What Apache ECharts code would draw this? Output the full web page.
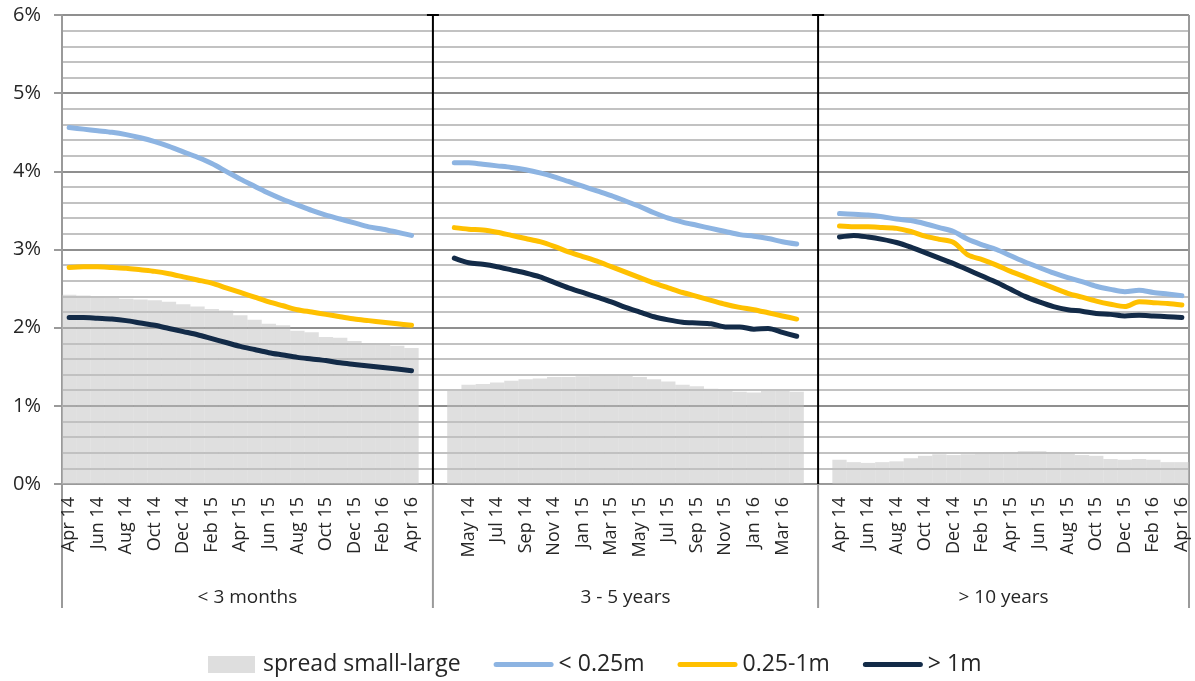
<!DOCTYPE html>
<html>
<head>
<meta charset="utf-8">
<script src="https://cdn.jsdelivr.net/npm/echarts@6/dist/echarts.min.js"></script>
<style>
html,body{margin:0;padding:0;background:#fff;}
#chart{width:1195px;height:681px;}
</style>
</head>
<body>
<div id="chart"></div>
<script>
// ---------- DATA ----------
const months = ["Apr 14","May 14","Jun 14","Jul 14","Aug 14","Sep 14","Oct 14","Nov 14","Dec 14",
  "Jan 15","Feb 15","Mar 15","Apr 15","May 15","Jun 15","Jul 15","Aug 15","Sep 15","Oct 15","Nov 15","Dec 15",
  "Jan 16","Feb 16","Mar 16","Apr 16"];
const groups = ["< 3 months", "3 - 5 years", "> 10 years"];
const seriesNames = ["spread small-large", "< 0.25m", "0.25-1m", "> 1m"];
const yTicks = [0, 1, 2, 3, 4, 5, 6];

// < 3 months
const spreadG1 = [2.42,2.41,2.39,2.38,2.37,2.36,2.35,2.33,2.30,2.27,2.24,2.22,2.16,2.10,2.05,2.03,1.96,1.94,1.88,1.87,1.83,1.80,1.78,1.77,1.74];
const smallG1  = [4.56,4.54,4.52,4.50,4.47,4.43,4.38,4.32,4.25,4.18,4.10,4.00,3.90,3.81,3.72,3.64,3.57,3.50,3.44,3.39,3.34,3.29,3.26,3.22,3.18];
const midG1    = [2.77,2.78,2.78,2.77,2.76,2.74,2.72,2.69,2.65,2.61,2.57,2.51,2.45,2.39,2.33,2.28,2.23,2.20,2.17,2.14,2.11,2.09,2.07,2.05,2.03];
const largeG1  = [2.13,2.13,2.12,2.11,2.09,2.06,2.03,1.99,1.95,1.91,1.86,1.81,1.76,1.72,1.68,1.65,1.62,1.60,1.58,1.55,1.53,1.51,1.49,1.47,1.45];
// 3 - 5 years
const spreadG2 = [1.19,1.27,1.28,1.30,1.32,1.34,1.35,1.37,1.37,1.38,1.39,1.39,1.39,1.37,1.34,1.31,1.27,1.25,1.22,1.21,1.18,1.17,1.19,1.19,1.18];
const smallG2  = [4.11,4.11,4.09,4.07,4.05,4.02,3.98,3.93,3.87,3.81,3.75,3.69,3.62,3.55,3.47,3.40,3.35,3.31,3.27,3.23,3.19,3.17,3.14,3.10,3.07];
const midG2    = [3.28,3.26,3.25,3.22,3.18,3.14,3.10,3.04,2.97,2.91,2.85,2.78,2.71,2.64,2.57,2.51,2.45,2.40,2.35,2.30,2.26,2.23,2.19,2.15,2.11];
const largeG2  = [2.89,2.83,2.81,2.78,2.74,2.70,2.65,2.58,2.51,2.45,2.39,2.33,2.26,2.20,2.14,2.10,2.07,2.06,2.05,2.01,2.01,1.98,1.99,1.94,1.89];
// > 10 years
const spreadG3 = [0.31,0.28,0.27,0.28,0.29,0.33,0.36,0.38,0.37,0.38,0.39,0.40,0.41,0.42,0.42,0.41,0.39,0.37,0.36,0.32,0.31,0.32,0.31,0.28,0.28];
const smallG3  = [3.46,3.45,3.44,3.42,3.39,3.37,3.33,3.28,3.23,3.13,3.06,3.00,2.92,2.84,2.77,2.70,2.64,2.59,2.53,2.49,2.46,2.48,2.45,2.43,2.41];
const midG3    = [3.30,3.29,3.29,3.28,3.27,3.23,3.17,3.13,3.09,2.93,2.87,2.80,2.72,2.65,2.58,2.51,2.44,2.39,2.34,2.30,2.27,2.33,2.32,2.31,2.29];
const largeG3  = [3.16,3.18,3.16,3.13,3.09,3.03,2.96,2.89,2.82,2.74,2.66,2.58,2.49,2.40,2.33,2.27,2.23,2.21,2.18,2.17,2.15,2.16,2.15,2.14,2.13];

// ---------- BUILD CATEGORY LAYOUT ----------
const cats = [], labels = [], spread = [], small = [], mid = [], large = [];
const groupSpans = [];
function pushGap(){ cats.push("gap" + cats.length); labels.push(""); spread.push(null); small.push(null); mid.push(null); large.push(null); }
function pushGroup(g, sp, sm, md, lg){
  months.forEach((m, i) => {
    cats.push(g + "|" + i); labels.push(m);
    spread.push(sp[i]); small.push(sm[i]); mid.push(md[i]); large.push(lg[i]);
  });
}
let s0 = cats.length; pushGroup(0, spreadG1, smallG1, midG1, largeG1); pushGap(); groupSpans.push([s0, cats.length - 1]);
s0 = cats.length; pushGap(); pushGroup(1, spreadG2, smallG2, midG2, largeG2); pushGap(); groupSpans.push([s0, cats.length - 1]);
s0 = cats.length; pushGap(); pushGroup(2, spreadG3, smallG3, midG3, largeG3); groupSpans.push([s0, cats.length - 1]);

const FONT = "'Open Sans', Lato, sans-serif";
const TXT = "#262626";
const LINE_ICON = "path://M0,0M60,17M2.5,6h55a2.5,2.5 0 0 1 0,5h-55a2.5,2.5 0 0 1 0,-5z";
const RECT_ICON = "path://M0,0M60,17M10,0h47v17h-47z";
const chart = echarts.init(document.getElementById("chart"), null, {renderer: "canvas"});

function lineSeries(name, data, color){
  return {
    name, type: "line", data, symbol: "none", showSymbol: false, smooth: 0.3,
    connectNulls: false, z: 3,
    lineStyle: {color, width: 5, cap: "round", join: "round"},
    itemStyle: {color}
  };
}

chart.setOption({
  animation: false,
  textStyle: {fontFamily: FONT},
  grid: {left: 62, right: 6, top: 15, bottom: 197, containLabel: false},
  legend: {
    top: 648, left: 193, itemGap: 33, itemWidth: 60, itemHeight: 17,
    textStyle: {fontFamily: FONT, fontSize: 23, color: TXT},
    data: [
      {name: seriesNames[0], icon: RECT_ICON, itemStyle: {color: "#dedede"}},
      {name: seriesNames[1], icon: LINE_ICON},
      {name: seriesNames[2], icon: LINE_ICON},
      {name: seriesNames[3], icon: LINE_ICON}
    ]
  },
  xAxis: {
    type: "category", data: cats, boundaryGap: true,
    axisLine: {show: true, lineStyle: {color: "#9a9a9a", width: 2}},
    axisTick: {show: false},
    splitLine: {show: false},
    axisLabel: {
      interval: 1, rotate: 90, margin: 13, fontSize: 18, color: TXT, fontFamily: FONT,
      formatter: (v) => { const i = cats.indexOf(v); return i >= 0 ? labels[i] : ""; }
    }
  },
  yAxis: {
    type: "value", min: yTicks[0], max: yTicks[yTicks.length - 1], interval: 1,
    axisLine: {show: true, lineStyle: {color: "#9a9a9a", width: 2}},
    axisTick: {show: true, length: 8, lineStyle: {color: "#9a9a9a", width: 2}},
    axisLabel: {formatter: "{value}%", fontSize: 20, color: TXT, margin: 21, fontFamily: FONT},
    splitLine: {show: true, lineStyle: {color: "#8f8f8f", width: 2}},
    minorTick: {show: false, splitNumber: 5},
    minorSplitLine: {show: true, lineStyle: {color: "#c2c2c2", width: 2}}
  },
  series: [
    {name: seriesNames[0], type: "bar", data: spread, barCategoryGap: "0%", barGap: "0%", z: 1,
     itemStyle: {color: "rgba(191,191,191,0.5)"}},
    lineSeries(seriesNames[1], small, "#8db4e2"),
    lineSeries(seriesNames[2], mid, "#ffc000"),
    lineSeries(seriesNames[3], large, "#132b48")
  ]
});

// ---------- GROUP DIVIDERS & GROUP LABELS ----------
function xPix(i){ return chart.convertToPixel({xAxisIndex: 0}, i); }
const yTop = chart.convertToPixel({yAxisIndex: 0}, yTicks[yTicks.length - 1]);
const yBot = chart.convertToPixel({yAxisIndex: 0}, yTicks[0]);
const w = xPix(1) - xPix(0);
const axisBottom = yBot + 124;
const gfx = [];
const leftEdge = xPix(0) - w / 2;
const rightEdge = xPix(cats.length - 1) + w / 2;
gfx.push({type: "line", shape: {x1: leftEdge, y1: yBot, x2: leftEdge, y2: axisBottom}, style: {stroke: "#9a9a9a", lineWidth: 2}});
gfx.push({type: "line", shape: {x1: rightEdge, y1: yTop, x2: rightEdge, y2: axisBottom}, style: {stroke: "#9a9a9a", lineWidth: 2}});
for (let g = 0; g < groupSpans.length - 1; g++) {
  const x = xPix(groupSpans[g][1]) + w / 2;
  gfx.push({type: "line", z: 10, shape: {x1: x, y1: yTop, x2: x, y2: yBot}, style: {stroke: "#000", lineWidth: 2}});
  gfx.push({type: "line", z: 10, shape: {x1: x - 6, y1: yTop, x2: x + 6, y2: yTop}, style: {stroke: "#000", lineWidth: 2}});
  gfx.push({type: "line", shape: {x1: x, y1: yBot, x2: x, y2: axisBottom}, style: {stroke: "#9a9a9a", lineWidth: 2}});
}
groupSpans.forEach((sp, g) => {
  const cx = (xPix(sp[0]) + xPix(sp[1])) / 2;
  gfx.push({type: "text", x: cx, y: yBot + 114, style: {text: groups[g], fontSize: 19, fontFamily: FONT, fill: TXT, align: "center", verticalAlign: "middle"}});
});
chart.setOption({graphic: gfx});
</script>
</body>
</html>
